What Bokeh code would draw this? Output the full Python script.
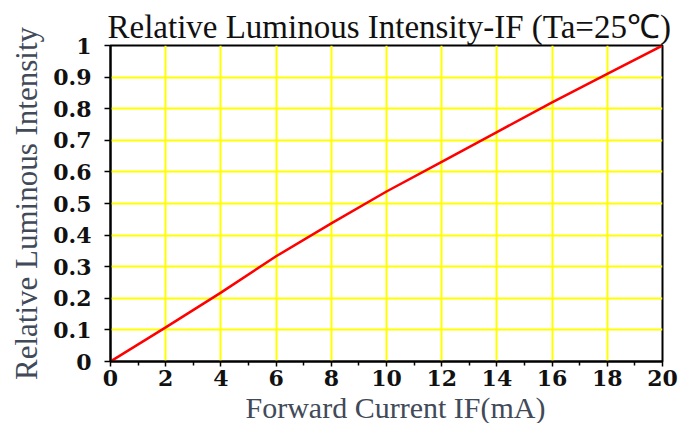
from bokeh.plotting import figure
from bokeh.models import FixedTicker, Range1d, Title
from bokeh.embed import file_html
from bokeh.resources import INLINE

# data
current_ma = [0, 2, 4, 6, 8, 10, 12, 14, 16, 18, 20]
rel_intensity = [0.0, 0.108, 0.218, 0.333, 0.437, 0.538, 0.632, 0.726, 0.82, 0.91, 1.0]
x_ticks = [0, 2, 4, 6, 8, 10, 12, 14, 16, 18, 20]
x_minor = [1, 3, 5, 7, 9, 11, 13, 15, 17, 19]
y_ticks = [0, 0.1, 0.2, 0.3, 0.4, 0.5, 0.6, 0.7, 0.8, 0.9, 1.0]
y_labels = ["0", "0.1", "0.2", "0.3", "0.4", "0.5", "0.6", "0.7", "0.8", "0.9", "1"]
title_text = "Relative Luminous Intensity-IF (Ta=25\u2103)"
x_title = "Forward Current IF(mA)"
y_title = "Relative Luminous Intensity"

SERIF = "Liberation Serif"
TICKFONT = "DejaVu Serif"

p = figure(width=678, height=423, output_backend="svg", toolbar_location=None,
           x_range=Range1d(0, 20), y_range=Range1d(0, 1),
           min_border_left=110, min_border_right=16, min_border_top=45, min_border_bottom=61)

p.title.text = title_text
p.title.align = "left"
p.title.offset = -3
p.title.text_font = SERIF
p.title.text_font_size = "33px"
p.title.text_font_style = "normal"
p.title.text_color = "#111111"
p.title.standoff = 1

p.outline_line_color = "black"
p.outline_line_width = 2

p.xaxis.ticker = FixedTicker(ticks=x_ticks, minor_ticks=x_minor)
p.yaxis.ticker = FixedTicker(ticks=y_ticks)
p.yaxis.major_label_overrides = {t: l for t, l in zip(y_ticks, y_labels)}

for ax in (p.xaxis, p.yaxis):
    ax.axis_line_color = "black"
    ax.axis_line_width = 2
    ax.major_tick_line_color = "black"
    ax.major_tick_line_width = 1.5
    ax.major_label_text_font = TICKFONT
    ax.major_label_text_font_style = "bold"
    ax.major_label_text_font_size = "22px"
    ax.major_label_text_color = "#111111"
    ax.axis_label_text_font = SERIF
    ax.axis_label_text_font_style = "normal"
    ax.axis_label_text_font_size = "31px"
    ax.axis_label_text_color = "#414a58"

p.xaxis.major_tick_in = 0
p.xaxis.major_tick_out = 5
p.xaxis.minor_tick_in = 0
p.xaxis.minor_tick_out = 4
p.xaxis.minor_tick_line_color = "black"
p.xaxis.minor_tick_line_width = 1.5
p.yaxis.major_tick_in = 0
p.yaxis.major_tick_out = 6
p.yaxis.minor_tick_line_color = None
p.xaxis.major_label_standoff = 3
p.yaxis.major_label_standoff = 13
p.yaxis.axis_label = y_title
p.yaxis.axis_label_standoff = 6

xt = Title(text=x_title, align="left", offset=135, standoff=0,
           text_font=SERIF, text_font_size="30px", text_font_style="normal",
           text_color="#414a58")
p.add_layout(xt, "below")

p.xgrid.ticker = FixedTicker(ticks=x_ticks[1:-1])
p.ygrid.ticker = FixedTicker(ticks=y_ticks[1:-1])
p.grid.grid_line_color = "#ffff00"
p.grid.grid_line_width = 2
p.grid.grid_line_alpha = 1.0

p.line(current_ma, rel_intensity, line_color="#ff0000", line_width=2.5)

open("out.html", "w").write(file_html(p, INLINE))
